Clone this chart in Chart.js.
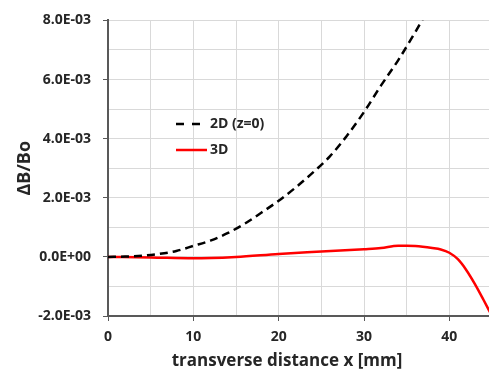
<!DOCTYPE html>
<html>
<head>
<meta charset="utf-8">
<script src="https://cdn.jsdelivr.net/npm/chart.js@4.4.0/dist/chart.umd.min.js"></script>
<style>
  html, body { margin: 0; padding: 0; background: #fff; overflow: hidden; }
  canvas { display: block; }
</style>
</head>
<body>
<canvas id="myChart" width="500" height="371"></canvas>
<script>
'use strict';

// data (x in mm, dB/Bo)
const xs2D = [0, 2, 4, 6, 8, 10, 12, 14, 16, 18, 20, 22, 24, 26, 28, 30, 32, 34, 36, 37.2];
const ys2D = [0, 0.00001, 0.00004, 0.0001, 0.0002, 0.00037, 0.00055, 0.0008, 0.00112, 0.0015, 0.0019, 0.00235, 0.00285, 0.0034, 0.0041, 0.0049, 0.0058, 0.00665, 0.0076, 0.0082];

const xs3D = [0, 5, 10, 15, 20, 25, 30, 32, 34, 35, 36, 38, 39, 40, 41, 42, 43, 44, 45];
const ys3D = [0, -0.00002, -0.00005, 0, 0.0001, 0.00018, 0.00026, 0.0003, 0.00038, 0.00038, 0.00037, 0.0003, 0.00025, 0.00014, -0.00008, -0.00045, -0.00092, -0.00145, -0.002];

const seriesLabels = ['2D (z=0)', '3D'];
const xLabel = 'transverse distance x [mm]';
const yLabel = '\u0394B/Bo';

function toPoints(xs, ys) {
  let pts = [];
  for (let i = 0; i < xs.length; i++) {
    pts.push({ x: xs[i], y: ys[i] });
  }
  return pts;
}

function sciLabel(v) {
  let s = Number(v).toExponential(1).toUpperCase();
  let parts = s.split('E');
  let exp = parseInt(parts[1], 10);
  let sign = exp < 0 ? '-' : '+';
  let digits = String(Math.abs(exp)).padStart(2, '0');
  return parts[0] + 'E' + sign + digits;
}

const FONT = '"Open Sans", "DejaVu Sans", sans-serif';
const TEXT = '#262626';

// legend and x title drawn inside the plot like the original
const extraText = {
  id: 'extraText',
  afterDraw(chart) {
    const ctx = chart.ctx;
    ctx.save();
    ctx.lineWidth = 2.5;
    ctx.strokeStyle = '#000';
    ctx.setLineDash([8, 8]);
    ctx.beginPath();
    ctx.moveTo(176, 124);
    ctx.lineTo(201, 124);
    ctx.stroke();
    ctx.setLineDash([]);
    ctx.strokeStyle = '#ff0000';
    ctx.beginPath();
    ctx.moveTo(176, 150);
    ctx.lineTo(207, 150);
    ctx.stroke();

    ctx.fillStyle = TEXT;
    ctx.font = 'bold 14px ' + FONT;
    ctx.textBaseline = 'middle';
    ctx.textAlign = 'left';
    ctx.fillText(seriesLabels[0], 210, 124);
    ctx.fillText(seriesLabels[1], 210, 150);

    ctx.font = 'bold 17px ' + FONT;
    ctx.textAlign = 'center';
    ctx.fillText(xLabel, 287, 361);
    ctx.restore();
  }
};

let ctx = document.getElementById('myChart').getContext('2d');
let myChart = new Chart(ctx, {
  type: 'line',
  data: {
    datasets: [{
      label: seriesLabels[0],
      data: toPoints(xs2D, ys2D),
      borderColor: '#000',
      borderWidth: 2.5,
      borderDash: [8, 5],
      pointRadius: 0,
      cubicInterpolationMode: 'monotone',
      fill: false
    }, {
      label: seriesLabels[1],
      data: toPoints(xs3D, ys3D),
      borderColor: '#ff0000',
      borderWidth: 2.5,
      pointRadius: 0,
      cubicInterpolationMode: 'monotone',
      fill: false
    }]
  },
  options: {
    responsive: false,
    animation: false,
    devicePixelRatio: 1,
    layout: { padding: { top: 16, right: 5, left: 0, bottom: 0 } },
    plugins: {
      legend: { display: false },
      tooltip: { enabled: false }
    },
    scales: {
      x: {
        type: 'linear',
        min: 0,
        max: 45,
        grid: {
          color: '#d9d9d9',
          lineWidth: 1,
          tickLength: 5,
          tickColor: (c) => (c.tick && c.tick.value % 10 === 0 ? '#595959' : 'rgba(0,0,0,0)')
        },
        border: { color: '#595959', width: 2 },
        ticks: {
          stepSize: 5,
          padding: 8,
          color: TEXT,
          font: { family: FONT, size: 14, weight: 'bold' },
          maxRotation: 0,
          callback: (v) => (v % 10 === 0 && v < 45 ? String(v) : '')
        },
        afterFit: (scale) => { scale.height = 55; }
      },
      y: {
        min: -0.002,
        max: 0.008,
        grid: {
          color: '#d9d9d9',
          lineWidth: 1,
          tickLength: 5,
          tickColor: (c) => (c.tick && Math.abs(Math.round(c.tick.value * 1000)) % 2 === 0 ? '#595959' : 'rgba(0,0,0,0)')
        },
        border: { color: '#595959', width: 2 },
        ticks: {
          stepSize: 0.001,
          padding: 12,
          color: TEXT,
          font: { family: FONT, size: 14, weight: 'bold' },
          callback: (v) => (Math.round(v * 1000) % 2 === 0 ? sciLabel(v) : '')
        },
        title: {
          display: true,
          text: yLabel,
          color: TEXT,
          font: { family: FONT, size: 18, weight: 'bold' },
          padding: { top: 14, bottom: 0 }
        },
        afterFit: (scale) => { scale.width = 108; }
      }
    }
  },
  plugins: [extraText]
});
</script>
</body>
</html>
